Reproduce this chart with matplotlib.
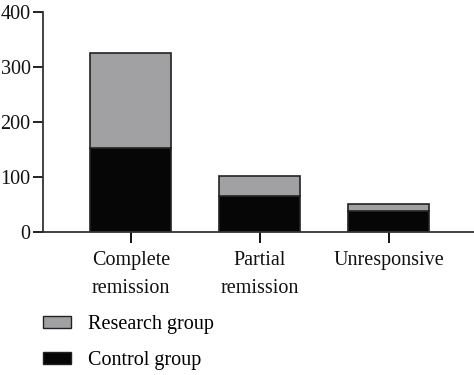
import matplotlib
matplotlib.use('Agg')
import matplotlib.pyplot as plt
from matplotlib.patches import Patch

# data
categories = ["Complete\nremission", "Partial\nremission", "Unresponsive"]
control = [153, 66, 38]
research = [173, 36, 12]
yticks = [0, 100, 200, 300, 400]

plt.rcParams['font.family'] = ['Liberation Serif', 'DejaVu Serif']

fig = plt.figure(figsize=(4.74, 3.75), dpi=100)
ax = fig.add_axes([0.091, 0.382, 0.909, 0.585])

x = range(len(categories))
ax.bar(x, control, width=0.63, color='#060606', edgecolor='#222222', linewidth=1.2)
ax.bar(x, research, width=0.63, bottom=control, color='#a1a1a3', edgecolor='#222222', linewidth=1.2)

ax.set_xlim(-0.68, 2.66)
ax.set_ylim(0, 400)
ax.set_yticks(yticks)
ax.set_xticks(list(x))
ax.set_xticklabels(categories, fontsize=14.5, color='#111111', linespacing=1.65)
ax.tick_params(axis='y', labelsize=14.5, colors='#111111', length=7, width=1.3, direction='out', pad=2)
ax.tick_params(axis='x', length=8, width=1.3, direction='out', pad=6)
for s in ['top', 'right']:
    ax.spines[s].set_visible(False)
for s in ['left', 'bottom']:
    ax.spines[s].set_linewidth(1.3)
    ax.spines[s].set_color('#333333')

handles = [Patch(facecolor='#a1a1a3', edgecolor='#222222', label='Research group'),
           Patch(facecolor='#060606', edgecolor='#222222', label='Control group')]
fig.legend(handles=handles, loc='upper left', bbox_to_anchor=(0.091, 0.16),
           frameon=False, fontsize=14.5, handlelength=1.4, handleheight=0.55,
           labelspacing=0.85, handletextpad=0.85, borderpad=0, borderaxespad=0)

fig.savefig('out.png', dpi=100)
